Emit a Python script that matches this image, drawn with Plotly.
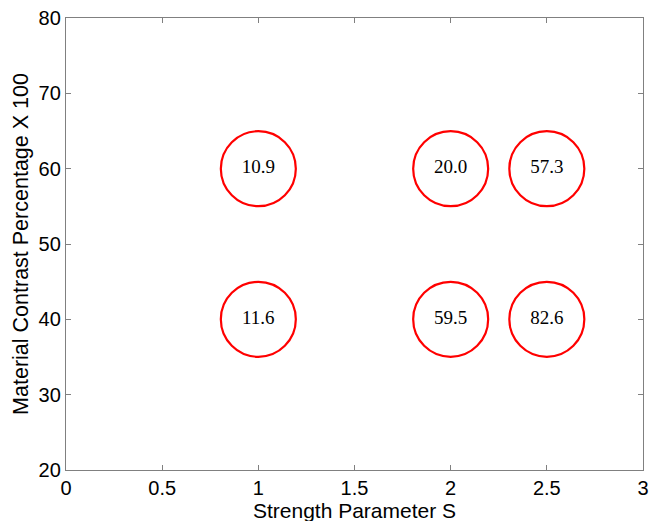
import plotly.graph_objects as go

strength = [1, 2, 2.5, 1, 2, 2.5]
contrast = [60, 60, 60, 40, 40, 40]
labels = ["10.9", "20.0", "57.3", "11.6", "59.5", "82.6"]

x_ticks = [0, 0.5, 1, 1.5, 2, 2.5, 3]
x_ticklabels = ["0", "0.5", "1", "1.5", "2", "2.5", "3"]
y_ticks = [20, 30, 40, 50, 60, 70, 80]

fig = go.Figure()
fig.add_trace(go.Scatter(
    x=strength, y=contrast, text=labels,
    mode="markers+text",
    textposition="middle center",
    textfont=dict(family="Liberation Serif, Times New Roman, serif", size=19, color="black"),
    marker=dict(symbol="circle-open", size=75, color="red", line=dict(width=2.2, color="red")),
    cliponaxis=False,
    showlegend=False,
))

sans = "Liberation Sans, Arial, sans-serif"
axis_common = dict(
    showgrid=False, zeroline=False, showline=True, linecolor="#808080", linewidth=1.3,
    mirror="allticks", ticks="inside", ticklen=5, tickcolor="#808080",
    tickfont=dict(family=sans, size=20, color="black"),
    automargin=False, ticklabeloverflow="allow",
)

fig.update_layout(
    width=660, height=521,
    margin=dict(l=58, r=25, t=10, b=59),
    paper_bgcolor="white", plot_bgcolor="white",
    xaxis=dict(range=[0, 3], tickvals=x_ticks, ticktext=x_ticklabels,
               title=dict(text="Strength Parameter S", standoff=0,
                          font=dict(family=sans, size=21, color="black")),
               **axis_common),
    yaxis=dict(range=[20, 80], tickvals=y_ticks,
               title=dict(text="Material Contrast Percentage X 100", standoff=4,
                          font=dict(family=sans, size=21.5, color="black")),
               **axis_common),
)

fig.write_html("out.html")
